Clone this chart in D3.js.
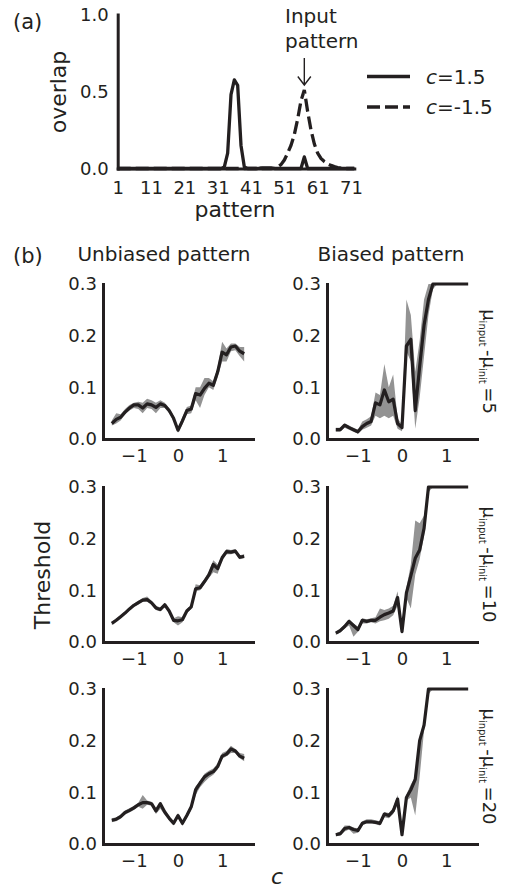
<!DOCTYPE html>
<html>
<head>
<meta charset="utf-8">
<script src="https://cdn.jsdelivr.net/npm/d3@7"></script>
<style>
  body { margin: 0; background: #fff; }
  svg text { font-family: "DejaVu Sans", sans-serif; fill: #231f20; }
</style>
</head>
<body>
<svg id="drawing_region"></svg>
<script>
// ---- data ----
const patternIdx = d3.range(1, 73);
const overlapPos = [
  0,0,0,0,0,0,0,0,0,0,
  0,0,0,0,0,0,0,0,0,0,
  0,0,0,0,0,0,0,0,0,0,
  0,0,0.01,0.1,0.48,0.575,0.54,0.15,0.01,0,
  0,0,0,0.004,0.004,0.004,0.004,0,0,0,
  0,0,0,0,0,0,0.075,0,0,0,
  0,0,0,0,0,0,0,0,0,0,
  0,0];
const overlapNeg = [
  0,0,0,0,0,0,0,0,0,0,
  0,0,0,0,0,0,0,0,0,0,
  0,0,0,0,0,0,0,0,0,0,
  0,0,0,0,0,0,0,0,0,0,
  0,0,0,0,0,0,0,0.003,0.01,0.025,
  0.055,0.1,0.15,0.22,0.32,0.44,0.51,0.37,0.25,0.16,
  0.1,0.065,0.045,0.03,0.02,0.012,0.006,0.002,0,0,
  0,0];
const patternTicks = [1, 11, 21, 31, 41, 51, 61, 71];
const overlapTicks = [0, 0.5, 1.0];

const cValues = [-1.5,-1.4,-1.3,-1.2,-1.1,-1.0,-0.9,-0.8,-0.7,-0.6,-0.5,-0.4,-0.3,-0.2,-0.1,
                 0.0,0.1,0.2,0.3,0.4,0.5,0.6,0.7,0.8,0.9,1.0,1.1,1.2,1.3,1.4,1.5];
const cTicks = [-1, 0, 1];
const thrTicks = [0, 0.1, 0.2, 0.3];
const deltaMu = [5, 10, 20];

const unbiased5   = [0.030,0.038,0.042,0.052,0.060,0.066,0.066,0.060,0.068,0.066,0.061,0.068,0.065,0.055,0.040,0.017,0.035,0.055,0.058,0.088,0.085,0.098,0.108,0.104,0.130,0.168,0.163,0.178,0.180,0.170,0.165];
const unbiased5Lo = [0.026,0.030,0.036,0.048,0.055,0.060,0.058,0.050,0.060,0.058,0.050,0.060,0.060,0.050,0.035,0.012,0.028,0.048,0.050,0.075,0.060,0.085,0.100,0.095,0.120,0.150,0.150,0.170,0.172,0.160,0.150];
const unbiased5Hi = [0.036,0.050,0.048,0.058,0.066,0.070,0.072,0.070,0.078,0.075,0.070,0.075,0.070,0.060,0.045,0.022,0.042,0.062,0.065,0.100,0.100,0.118,0.118,0.112,0.140,0.188,0.175,0.185,0.185,0.178,0.178];

const biased5   = [0.018,0.018,0.027,0.022,0.018,0.014,0.024,0.030,0.034,0.070,0.066,0.095,0.072,0.077,0.030,0.022,0.180,0.193,0.055,0.140,0.220,0.270,0.300,0.300,0.300,0.300,0.300,0.300,0.300,0.300,0.300];
const biased5Lo = [0.014,0.014,0.022,0.018,0.014,0.010,0.018,0.022,0.026,0.045,0.040,0.045,0.040,0.045,0.020,0.015,0.170,0.150,0.020,0.080,0.160,0.240,0.290,0.300,0.300,0.300,0.300,0.300,0.300,0.300,0.300];
const biased5Hi = [0.022,0.022,0.030,0.026,0.022,0.018,0.034,0.038,0.044,0.090,0.085,0.145,0.100,0.125,0.040,0.028,0.270,0.240,0.130,0.190,0.270,0.300,0.300,0.300,0.300,0.300,0.300,0.300,0.300,0.300,0.300];

const unbiased10   = [0.036,0.042,0.049,0.056,0.064,0.071,0.076,0.081,0.082,0.076,0.066,0.063,0.072,0.060,0.042,0.041,0.043,0.060,0.068,0.103,0.105,0.117,0.130,0.150,0.142,0.163,0.175,0.174,0.176,0.164,0.166];
const unbiased10Lo = [0.033,0.039,0.046,0.053,0.061,0.068,0.072,0.078,0.078,0.072,0.062,0.059,0.068,0.056,0.038,0.032,0.038,0.056,0.064,0.098,0.100,0.112,0.124,0.135,0.132,0.158,0.170,0.170,0.172,0.160,0.162];
const unbiased10Hi = [0.039,0.045,0.052,0.059,0.067,0.074,0.080,0.085,0.088,0.080,0.070,0.067,0.076,0.064,0.046,0.050,0.048,0.064,0.072,0.112,0.110,0.122,0.136,0.158,0.150,0.168,0.180,0.178,0.180,0.168,0.170];

const biased10   = [0.017,0.022,0.030,0.040,0.032,0.024,0.042,0.040,0.042,0.042,0.048,0.053,0.056,0.060,0.086,0.020,0.095,0.128,0.162,0.178,0.220,0.300,0.300,0.300,0.300,0.300,0.300,0.300,0.300,0.300,0.300];
const biased10Lo = [0.014,0.018,0.026,0.032,0.010,0.020,0.036,0.036,0.038,0.036,0.040,0.042,0.045,0.052,0.070,0.016,0.085,0.065,0.130,0.160,0.205,0.290,0.300,0.300,0.300,0.300,0.300,0.300,0.300,0.300,0.300];
const biased10Hi = [0.020,0.026,0.034,0.044,0.036,0.030,0.046,0.044,0.046,0.048,0.065,0.062,0.065,0.070,0.098,0.025,0.105,0.150,0.235,0.230,0.245,0.300,0.300,0.300,0.300,0.300,0.300,0.300,0.300,0.300,0.300];

const unbiased20   = [0.046,0.048,0.053,0.061,0.065,0.070,0.076,0.080,0.080,0.078,0.064,0.078,0.062,0.050,0.040,0.055,0.040,0.055,0.072,0.105,0.118,0.130,0.136,0.140,0.150,0.170,0.174,0.184,0.180,0.170,0.166];
const unbiased20Lo = [0.042,0.044,0.049,0.057,0.061,0.066,0.072,0.068,0.076,0.074,0.058,0.068,0.056,0.045,0.036,0.050,0.035,0.050,0.066,0.095,0.110,0.120,0.128,0.134,0.144,0.165,0.170,0.176,0.176,0.166,0.160];
const unbiased20Hi = [0.050,0.052,0.057,0.065,0.069,0.074,0.080,0.095,0.084,0.082,0.068,0.082,0.066,0.054,0.044,0.060,0.044,0.060,0.076,0.112,0.122,0.136,0.142,0.146,0.156,0.176,0.180,0.190,0.184,0.176,0.174];

const biased20   = [0.018,0.020,0.030,0.032,0.028,0.026,0.040,0.043,0.043,0.042,0.040,0.058,0.055,0.064,0.087,0.018,0.090,0.105,0.125,0.200,0.230,0.300,0.300,0.300,0.300,0.300,0.300,0.300,0.300,0.300,0.300];
const biased20Lo = [0.015,0.016,0.024,0.028,0.020,0.022,0.036,0.040,0.040,0.038,0.036,0.052,0.050,0.058,0.075,0.014,0.084,0.090,0.055,0.130,0.220,0.290,0.300,0.300,0.300,0.300,0.300,0.300,0.300,0.300,0.300];
const biased20Hi = [0.021,0.024,0.036,0.036,0.032,0.030,0.044,0.048,0.048,0.046,0.044,0.062,0.060,0.070,0.095,0.022,0.096,0.115,0.130,0.205,0.240,0.300,0.300,0.300,0.300,0.300,0.300,0.300,0.300,0.300,0.300];

// ---- drawing ----
const ink = '#231f20';
const band = '#939393';

const svg = d3.select('#drawing_region')
    .attr('width', 518)
    .attr('height', 891);

function styleAxis(g, size) {
    g.attr('font-size', size).attr('font-family', null).attr('color', ink);
    g.select('.domain').attr('stroke-width', 3).attr('stroke-linecap', 'square');
    g.selectAll('text').attr('fill', ink);
}

// panel (a)
const ax = d3.scaleLinear().domain([1, 72]).range([117.7, 354.3]);
const ay = d3.scaleLinear().domain([0, 1]).range([168.5, 14.5]);

const pa = svg.append('g');

const aline = d3.line().x((d, i) => ax(patternIdx[i])).y(d => ay(d));

pa.append('path')
    .attr('d', aline(overlapPos))
    .attr('fill', 'none').attr('stroke', ink).attr('stroke-width', 3.3)
    .attr('stroke-linejoin', 'round');
pa.append('path')
    .attr('d', aline(overlapNeg))
    .attr('fill', 'none').attr('stroke', ink).attr('stroke-width', 3.3)
    .attr('stroke-dasharray', '13,5');

pa.append('g')
    .attr('transform', `translate(0,${ay(0)})`)
    .call(d3.axisBottom(ax).tickValues(patternTicks).tickSize(0).tickPadding(13).tickFormat(d3.format('d')))
    .call(g => styleAxis(g, 18));
pa.append('g')
    .attr('transform', `translate(${ax(1)},0)`)
    .call(d3.axisLeft(ay).tickValues(overlapTicks).tickSize(0).tickPadding(9).tickFormat(d3.format('.1f')))
    .call(g => styleAxis(g, 18));

svg.append('text').attr('x', 13).attr('y', 29).style('font-size', '21px').text('(a)');
svg.append('text')
    .attr('transform', 'translate(66,92) rotate(-90)')
    .attr('text-anchor', 'middle').style('font-size', '22px').text('overlap');
svg.append('text')
    .attr('x', 235).attr('y', 217)
    .attr('text-anchor', 'middle').style('font-size', '22px').text('pattern');

// input pattern annotation
svg.append('text').attr('x', 285).attr('y', 23).style('font-size', '20px').text('Input');
svg.append('text').attr('x', 285).attr('y', 48).style('font-size', '20px').text('pattern');
const arrowX = ax(57);
svg.append('path')
    .attr('d', `M${arrowX},58V85M${arrowX - 6.5},76.5L${arrowX},85L${arrowX + 6.5},76.5`)
    .attr('fill', 'none').attr('stroke', ink).attr('stroke-width', 1.4);

// legend
const legend = [
    {label: '=1.5', dash: null, y: 76.5},
    {label: '=-1.5', dash: '13,5', y: 107}
];
legend.forEach(l => {
    svg.append('line')
        .attr('x1', 367).attr('x2', 410).attr('y1', l.y).attr('y2', l.y)
        .attr('stroke', ink).attr('stroke-width', 3.3)
        .attr('stroke-dasharray', l.dash);
    const t = svg.append('text').attr('x', 426).attr('y', l.y + 7).style('font-size', '20px');
    t.append('tspan').style('font-style', 'italic').text('c');
    t.append('tspan').text(l.label);
});

// panel (b)
svg.append('text').attr('x', 13).attr('y', 263).style('font-size', '21px').text('(b)');
svg.append('text').attr('x', 164).attr('y', 261).attr('text-anchor', 'middle')
    .style('font-size', '20px').text('Unbiased pattern');
svg.append('text').attr('x', 391).attr('y', 261).attr('text-anchor', 'middle')
    .style('font-size', '20px').text('Biased pattern');

const colX = [103, 327];
const rowTop = [284, 487, 689];
const panelW = 150, panelH = 155;

const panels = [
    {row: 0, col: 0, mean: unbiased5,  lo: unbiased5Lo,  hi: unbiased5Hi},
    {row: 0, col: 1, mean: biased5,    lo: biased5Lo,    hi: biased5Hi},
    {row: 1, col: 0, mean: unbiased10, lo: unbiased10Lo, hi: unbiased10Hi},
    {row: 1, col: 1, mean: biased10,   lo: biased10Lo,   hi: biased10Hi},
    {row: 2, col: 0, mean: unbiased20, lo: unbiased20Lo, hi: unbiased20Hi},
    {row: 2, col: 1, mean: biased20,   lo: biased20Lo,   hi: biased20Hi}
];

const bx = d3.scaleLinear().domain([-1.7, 1.7]).range([0, panelW]);
const by = d3.scaleLinear().domain([0, 0.3]).range([panelH, 0]);

panels.forEach(p => {
    const g = svg.append('g')
        .attr('transform', `translate(${colX[p.col]},${rowTop[p.row]})`);

    const area = d3.area()
        .x((d, i) => bx(cValues[i]))
        .y0((d, i) => by(p.lo[i]))
        .y1((d, i) => by(p.hi[i]));
    g.append('path').attr('d', area(p.mean)).attr('fill', band);

    const line = d3.line().x((d, i) => bx(cValues[i])).y(d => by(d));
    g.append('path').attr('d', line(p.mean))
        .attr('fill', 'none').attr('stroke', ink).attr('stroke-width', 3.2)
        .attr('stroke-linejoin', 'round');

    g.append('g')
        .attr('transform', `translate(0,${panelH})`)
        .call(d3.axisBottom(bx).tickValues(cTicks).tickSize(0).tickPadding(10).tickFormat(d3.format('d')))
        .call(a => styleAxis(a, 18));
    g.append('g')
        .call(d3.axisLeft(by).tickValues(thrTicks).tickSize(0).tickPadding(6).tickFormat(d3.format('.1f')))
        .call(a => styleAxis(a, 18));
});

// right-side delta mu labels
deltaMu.forEach((d, r) => {
    const cy = rowTop[r] + panelH / 2;
    const t = svg.append('text')
        .attr('transform', `translate(483,${cy}) rotate(90)`)
        .attr('text-anchor', 'middle')
        .style('font-size', '18px');
    t.append('tspan').text('\u03bc');
    t.append('tspan').attr('dy', 4).style('font-size', '10px').text('input');
    t.append('tspan').attr('dy', -4).text('\u2009-\u03bc');
    t.append('tspan').attr('dy', 4).style('font-size', '10px').text('init');
    t.append('tspan').attr('dy', -4).text('\u2009=' + d);
});

svg.append('text')
    .attr('transform', 'translate(50,575) rotate(-90)')
    .attr('text-anchor', 'middle').style('font-size', '22px').text('Threshold');

svg.append('text')
    .attr('x', 277).attr('y', 884).attr('text-anchor', 'middle')
    .style('font-size', '22px').style('font-style', 'italic').text('c');
</script>
</body>
</html>
